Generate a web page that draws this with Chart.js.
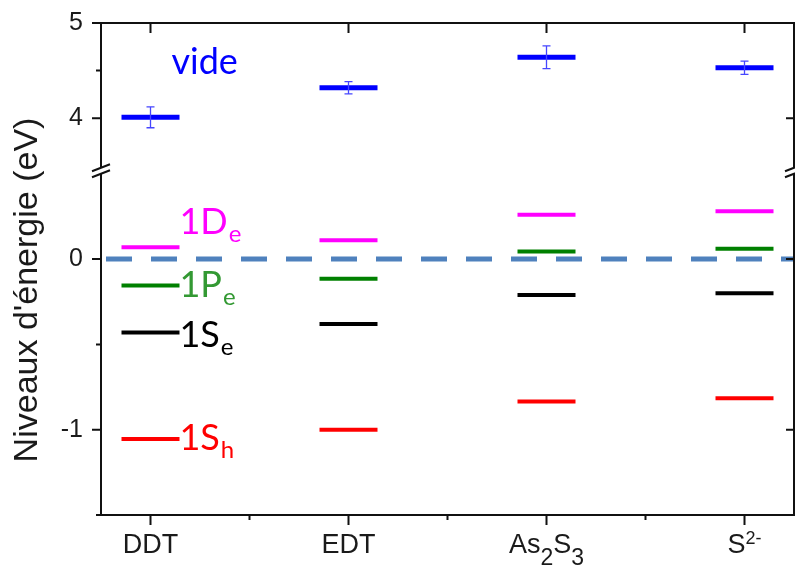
<!DOCTYPE html>
<html>
<head>
<meta charset="utf-8">
<script src="https://cdn.jsdelivr.net/npm/chart.js@4.4.1/dist/chart.umd.min.js"></script>
<style>
  html, body { margin: 0; padding: 0; background: #fff; }
  #wrap { width: 795px; height: 567px; }
</style>
</head>
<body>
<div id="wrap"><canvas id="levels" width="795" height="567"></canvas></div>
<script>
// categories (markup: _x = subscript, ^{..} = superscript)
const categories = ['DDT', 'EDT', 'As_2S_3', 'S^{2-}'];

// energy levels (eV)
const vide = [4.01, 4.32, 4.64, 4.53];
const videErr = [0.11, 0.065, 0.12, 0.07];
const level1De = [0.07, 0.11, 0.26, 0.28];
const level1Pe = [-0.155, -0.115, 0.045, 0.06];
const level1Se = [-0.43, -0.38, -0.21, -0.20];
const level1Sh = [-1.055, -1.0, -0.835, -0.815];

// axis ticks
const upperTicks = [4, 5];
const lowerTicks = [-1, 0];
const upperMinor = [4.5];
const lowerMinor = [-0.5, -1.5];

const X_MIN = 0.75, X_MAX = 4.25;
const UP_MIN = 3.454, UP_MAX = 5;
const LO_MIN = -1.5, LO_MAX = 0.521;

// level labels next to the DDT bars
const levelLabels = [
    { main: 'vide', sub: '', color: '#0000ff', x: 1.106, y: 4.46, axis: 'yTop' },
    { main: '1D', sub: 'e', color: '#ff00ff', x: 1.146, y: 0.147, axis: 'y' },
    { main: '1P', sub: 'e', color: '#339933', x: 1.146, y: -0.222, axis: 'y' },
    { main: '1S', sub: 'e', color: '#000000', x: 1.146, y: -0.515, axis: 'y' },
    { main: '1S', sub: 'h', color: '#ff0000', x: 1.146, y: -1.12, axis: 'y' },
];

const pts = (arr) => arr.map((v, i) => ({ x: i + 1, y: v }));

const levelSet = (label, arr, color, axis, width) => ({
    type: 'scatter',
    label,
    data: pts(arr),
    yAxisID: axis,
    pointStyle: 'line',
    pointRadius: 29,
    pointHoverRadius: 29,
    pointBorderWidth: width,
    pointHoverBorderWidth: width,
    borderColor: color,
    backgroundColor: color,
});

function segments(s) {
    const out = [];
    const re = /_(\w)|\^\{([^}]*)\}|([^_^]+)/g;
    let m;
    while ((m = re.exec(s))) {
        if (m[1]) out.push({ t: m[1], k: 'sub' });
        else if (m[2]) out.push({ t: m[2], k: 'sup' });
        else out.push({ t: m[3], k: 'n' });
    }
    return out;
}

const AX_FONT = '"Liberation Sans", Arial, sans-serif';
const LB_FONT = 'Lato, "Open Sans", sans-serif';

const decorPlugin = {
    id: 'decor',
    afterDatasetsDraw(chart) {
        const { ctx, chartArea: a, scales } = chart;
        const x = scales.x, yl = scales.y, yu = scales.yTop;
        ctx.save();

        // error bars on the vacuum level
        ctx.strokeStyle = '#4646ff';
        ctx.lineWidth = 1.3;
        vide.forEach((v, i) => {
            const px = x.getPixelForValue(i + 1);
            const t = yu.getPixelForValue(v + videErr[i]);
            const b = yu.getPixelForValue(v - videErr[i]);
            ctx.beginPath();
            ctx.moveTo(px, t); ctx.lineTo(px, b);
            ctx.moveTo(px - 4, t); ctx.lineTo(px + 4, t);
            ctx.moveTo(px - 4, b); ctx.lineTo(px + 4, b);
            ctx.stroke();
        });

        // level labels
        ctx.textAlign = 'left';
        ctx.textBaseline = 'alphabetic';
        levelLabels.forEach(l => {
            const px = x.getPixelForValue(l.x);
            const py = scales[l.axis].getPixelForValue(l.y);
            ctx.fillStyle = l.color;
            ctx.font = '36px ' + LB_FONT;
            ctx.fillText(l.main, px, py);
            const w = ctx.measureText(l.main).width;
            if (l.sub) {
                ctx.font = '24px ' + LB_FONT;
                ctx.fillText(l.sub, px + w + 1, py + 8);
            }
        });

        // frame
        ctx.strokeStyle = '#111';
        ctx.lineWidth = 2;
        ctx.lineCap = 'square';
        ctx.strokeRect(a.left, a.top, a.right - a.left, a.bottom - a.top);
        ctx.lineCap = 'butt';

        // ticks
        ctx.beginPath();
        const hTick = (px, py, len) => { ctx.moveTo(px, py); ctx.lineTo(px + len, py); };
        const vTick = (px, py, len) => { ctx.moveTo(px, py); ctx.lineTo(px, py + len); };
        upperTicks.forEach(v => {
            const py = yu.getPixelForValue(v);
            hTick(a.left, py, -9);
            hTick(a.right, py, -8);
        });
        lowerTicks.forEach(v => {
            const py = yl.getPixelForValue(v);
            hTick(a.left, py, -9);
            hTick(a.right, py, -8);
        });
        upperMinor.forEach(v => hTick(a.left, yu.getPixelForValue(v), -5));
        lowerMinor.forEach(v => hTick(a.left, yl.getPixelForValue(v), -5));
        categories.forEach((c, i) => {
            const px = x.getPixelForValue(i + 1);
            vTick(px, a.bottom, 10);
            vTick(px, a.top, 10);
            if (i < categories.length - 1) vTick(x.getPixelForValue(i + 1.5), a.bottom, 5);
        });
        ctx.stroke();

        // axis breaks
        const yb = yl.top;
        [a.left, a.right].forEach(ax => {
            ctx.fillStyle = '#fff';
            ctx.fillRect(ax - 2, yb - 3, 4, 6);
            ctx.beginPath();
            ctx.moveTo(ax - 9, yb + 1); ctx.lineTo(ax + 9, yb - 6);
            ctx.moveTo(ax - 9, yb + 7); ctx.lineTo(ax + 9, yb);
            ctx.stroke();
        });

        // category labels
        ctx.fillStyle = '#1a1a1a';
        categories.forEach((c, i) => {
            const segs = segments(c);
            const font = k => (k === 'n' ? 27 : k === 'sub' ? 23 : 18) + 'px ' + AX_FONT;
            let total = 0;
            segs.forEach(s => { ctx.font = font(s.k); s.w = ctx.measureText(s.t).width; total += s.w; });
            let px = x.getPixelForValue(i + 1) - total / 2;
            segs.forEach(s => {
                ctx.font = font(s.k);
                const dy = s.k === 'sub' ? 12 : s.k === 'sup' ? -12 : 0;
                ctx.fillText(s.t, px, 553 + (s.k === 'sup' ? 3 : 0) + dy);
                px += s.w;
            });
        });

        // y axis title
        ctx.translate(37, 290);
        ctx.rotate(-Math.PI / 2);
        ctx.textAlign = 'center';
        ctx.font = '34px ' + AX_FONT;
        ctx.fillText("Niveaux d'énergie (eV)", 0, 0);
        ctx.restore();
    }
};

const yAxisBase = {
    type: 'linear',
    position: 'left',
    stack: 'energy',
    grid: { display: false, drawTicks: false },
    border: { display: false },
    ticks: { padding: 18, color: '#1a1a1a', font: { family: AX_FONT, size: 25 } },
    afterFit: s => { s.width = 101; s.paddingTop = 0; s.paddingBottom = 0; },
};

new Chart(document.getElementById('levels'), {
    data: {
        datasets: [
            {
                type: 'line',
                label: 'zero',
                data: [{ x: X_MIN, y: 0 }, { x: X_MAX, y: 0 }],
                yAxisID: 'y',
                borderColor: '#4f81bd',
                borderWidth: 5,
                borderDash: [26, 19],
                borderDashOffset: 40,
                pointRadius: 0,
                fill: false,
            },
            levelSet('vide', vide, '#0000ff', 'yTop', 5),
            levelSet('1De', level1De, '#ff00ff', 'y', 4),
            levelSet('1Pe', level1Pe, '#008000', 'y', 4),
            levelSet('1Se', level1Se, '#000000', 'y', 4),
            levelSet('1Sh', level1Sh, '#ff0000', 'y', 4),
        ]
    },
    options: {
        responsive: false,
        devicePixelRatio: 1,
        animation: false,
        layout: { autoPadding: false, padding: { top: 23, right: 1, left: 0, bottom: 0 } },
        plugins: { legend: { display: false }, tooltip: { enabled: false } },
        scales: {
            x: {
                type: 'linear',
                min: X_MIN, max: X_MAX,
                grid: { display: false, drawTicks: false },
                border: { display: false },
                ticks: { display: false },
                afterFit: s => { s.height = 52; s.paddingLeft = 0; s.paddingRight = 0; },
            },
            y: {
                ...yAxisBase,
                min: LO_MIN, max: LO_MAX,
                stackWeight: 345,
                afterBuildTicks: s => { s.ticks = lowerTicks.map(v => ({ value: v })); },
            },
            yTop: {
                ...yAxisBase,
                min: UP_MIN, max: UP_MAX,
                stackWeight: 147.3,
                afterBuildTicks: s => { s.ticks = upperTicks.map(v => ({ value: v })); },
            },
        }
    },
    plugins: [decorPlugin]
});
</script>
</body>
</html>
